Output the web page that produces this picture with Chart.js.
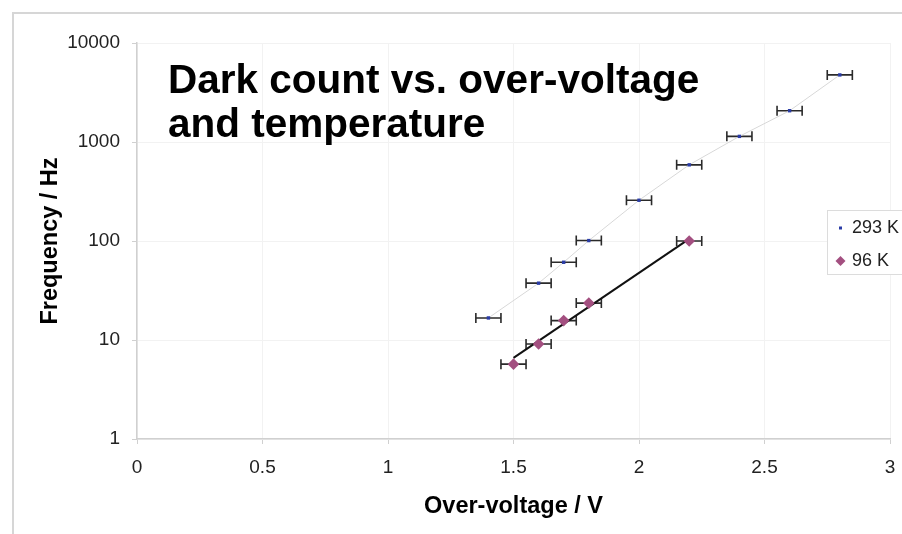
<!DOCTYPE html>
<html>
<head>
<meta charset="utf-8">
<script src="https://cdn.jsdelivr.net/npm/chart.js@4/dist/chart.umd.min.js"></script>
<style>
  html, body { margin: 0; padding: 0; background: #fff; overflow: hidden; }
  #frame { position: absolute; left: 12px; top: 12px; width: 1000px; height: 600px;
           border-left: 2px solid #d6d6d6; border-top: 2px solid #d6d6d6; }
  #wrap { position: absolute; left: 0; top: 0; width: 960px; height: 534px; }
</style>
</head>
<body>
<div id="frame"></div>
<div id="wrap"><canvas id="myChart" width="960" height="534"></canvas></div>
<script>
// data
const x293 = [1.4, 1.6, 1.7, 1.8, 2.0, 2.2, 2.4, 2.6, 2.8];
const y293 = [16.7, 37.5, 61, 101, 258, 588, 1140, 2070, 4760];
const err293 = [0.05, 0.05, 0.05, 0.05, 0.05, 0.05, 0.05, 0.05, 0.05];

const x96 = [1.5, 1.6, 1.7, 1.8, 2.2];
const y96 = [5.7, 9.1, 15.7, 23.6, 100];
const err96 = [0.05, 0.05, 0.05, 0.05, 0.05];

// trend line through the 96 K points (end points)
const xTrend96 = [1.5, 2.2];
const yTrend96 = [6.6, 105];

const seriesLabels = ['293 K', '96 K'];
const yTicks = [1, 10, 100, 1000, 10000];
const titleLines = ['Dark count vs. over-voltage', 'and temperature'];

const FONT = '"Liberation Sans", Arial, Helvetica, sans-serif';
const blue = '#2a3ca6';
const pink = '#a34f80';

function pts(xs, ys) {
    return xs.map((x, i) => ({ x: x, y: ys[i] }));
}

// horizontal error bars drawn through the scales
const errorBars = {
    id: 'errorBars',
    beforeDatasetsDraw(chart) {
        const c = chart.ctx;
        const xs = chart.scales.x;
        const ys = chart.scales.y;
        c.save();
        c.strokeStyle = '#2a2a2a';
        c.lineWidth = 1.6;
        chart.data.datasets.forEach(ds => {
            if (!ds.xErr) return;
            ds.data.forEach((p, i) => {
                const x0 = xs.getPixelForValue(p.x - ds.xErr[i]);
                const x1 = xs.getPixelForValue(p.x + ds.xErr[i]);
                const y = ys.getPixelForValue(p.y);
                c.beginPath();
                c.moveTo(x0, y); c.lineTo(x1, y);
                c.moveTo(x0, y - 5); c.lineTo(x0, y + 5);
                c.moveTo(x1, y - 5); c.lineTo(x1, y + 5);
                c.stroke();
            });
        });
        c.restore();
    }
};

// title inside the plot + legend box
const overlay = {
    id: 'overlay',
    afterDraw(chart) {
        const c = chart.ctx;
        const a = chart.chartArea;
        c.save();
        c.fillStyle = '#000';
        c.font = 'bold 40.5px ' + FONT;
        c.textBaseline = 'alphabetic';
        titleLines.forEach((t, i) => c.fillText(t, a.left + 31, a.top + 50 + i * 44));

        // legend
        const lx = a.right - 63;
        const ly = a.top + 167;
        c.fillStyle = '#fff';
        c.fillRect(lx, ly, 200, 64);
        c.strokeStyle = '#dcdcdc';
        c.lineWidth = 1;
        c.strokeRect(lx + 0.5, ly + 0.5, 200, 64);
        c.font = '18px ' + FONT;
        c.textBaseline = 'middle';
        c.fillStyle = '#222';
        c.fillText(seriesLabels[0], lx + 25, ly + 18);
        c.fillText(seriesLabels[1], lx + 25, ly + 51);
        c.fillStyle = blue;
        c.fillRect(lx + 12, ly + 16.5, 3, 3);
        c.fillStyle = pink;
        c.beginPath();
        c.moveTo(lx + 13.5, ly + 46);
        c.lineTo(lx + 18.5, ly + 51);
        c.lineTo(lx + 13.5, ly + 56);
        c.lineTo(lx + 8.5, ly + 51);
        c.closePath();
        c.fill();
        c.restore();
    }
};

const ctx = document.getElementById('myChart').getContext('2d');
const myChart = new Chart(ctx, {
    type: 'scatter',
    data: {
        datasets: [{
            label: seriesLabels[0],
            data: pts(x293, y293),
            xErr: err293,
            showLine: true,
            borderColor: '#d8d8d8',
            borderWidth: 1,
            pointStyle: 'rect',
            pointRadius: 2.4,
            pointBackgroundColor: blue,
            pointBorderColor: blue,
            pointBorderWidth: 0
        }, {
            label: seriesLabels[1],
            data: pts(x96, y96),
            xErr: err96,
            showLine: false,
            pointStyle: 'rectRot',
            pointRadius: 5.8,
            pointBackgroundColor: pink,
            pointBorderColor: pink,
            pointBorderWidth: 0
        }, {
            label: 'trend',
            data: pts(xTrend96, yTrend96),
            showLine: true,
            borderColor: '#111',
            borderWidth: 2,
            pointRadius: 0
        }]
    },
    options: {
        responsive: false,
        animation: false,
        layout: { padding: { left: 0, top: 43, right: 70, bottom: 0 } },
        plugins: {
            legend: { display: false },
            tooltip: { enabled: false }
        },
        scales: {
            x: {
                type: 'linear',
                min: 0,
                max: 3,
                ticks: {
                    stepSize: 0.5,
                    callback: v => String(v),
                    color: '#222',
                    font: { family: FONT, size: 19 },
                    padding: 12,
                    maxRotation: 0
                },
                grid: { color: '#f2f2f2', tickColor: '#d0d0d0', tickLength: 5 },
                border: { color: '#d0d0d0', width: 1.5 },
                title: {
                    display: true,
                    text: 'Over-voltage / V',
                    color: '#000',
                    font: { family: FONT, size: 23.5, weight: 'bold' },
                    padding: { top: 0, bottom: 13 }
                },
                afterFit(s) { s.height = 95; }
            },
            y: {
                type: 'logarithmic',
                min: 1,
                max: 10000,
                afterBuildTicks(s) { s.ticks = yTicks.map(v => ({ value: v })); },
                ticks: {
                    callback: v => String(v),
                    color: '#222',
                    font: { family: FONT, size: 19 },
                    padding: 12
                },
                grid: { color: '#f2f2f2', tickColor: '#d0d0d0', tickLength: 5 },
                border: { color: '#d0d0d0', width: 1.5 },
                title: {
                    display: true,
                    text: 'Frequency / Hz',
                    color: '#000',
                    font: { family: FONT, size: 23.5, weight: 'bold' },
                    padding: { top: 36, bottom: 0 }
                },
                afterFit(s) { s.width = 137; }
            }
        }
    },
    plugins: [errorBars, overlay]
});
</script>
</body>
</html>
